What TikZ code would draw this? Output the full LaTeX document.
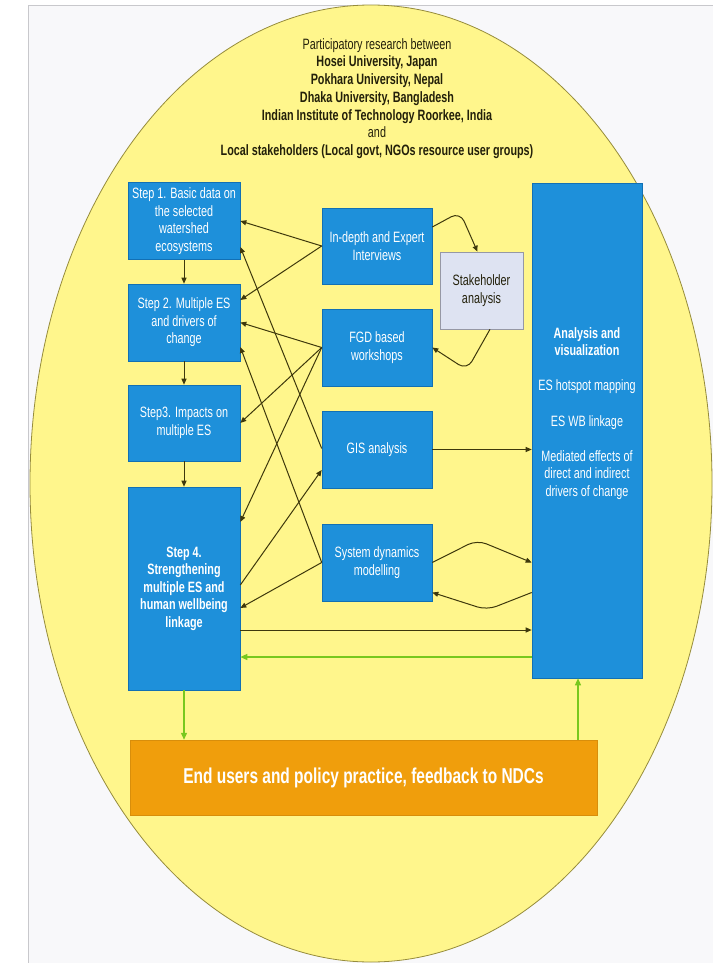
\documentclass[tikz,border=0pt]{standalone}
\usepackage{fontspec}
\setmainfont{Liberation Sans}
\newfontfamily\dfont[FakeStretch=0.72]{Liberation Sans}
\usetikzlibrary{arrows.meta,calc}
\definecolor{pagebg}{RGB}{248,248,250}
\definecolor{framegray}{RGB}{200,200,204}
\definecolor{ellfill}{RGB}{255,246,140}
\definecolor{elledge}{RGB}{150,140,60}
\definecolor{bluebox}{RGB}{30,144,218}
\definecolor{blueedge}{RGB}{18,112,180}
\definecolor{stkfill}{RGB}{222,227,242}
\definecolor{stkedge}{RGB}{150,152,165}
\definecolor{orangebox}{RGB}{240,158,12}
\definecolor{lineC}{RGB}{62,56,12}
\definecolor{greenC}{RGB}{120,200,30}
\definecolor{titleC}{RGB}{35,32,10}
\tikzset{
  stepbox/.style={rectangle, fill=bluebox, draw=blueedge, line width=0.6pt,
    text=white, align=center, inner sep=0pt,
    font=\dfont\fontsize{15}{17.5}\selectfont,
    minimum width=112pt, minimum height=77pt},
  methodbox/.style={stepbox, minimum width=110pt},
  stkbox/.style={rectangle, fill=stkfill, draw=stkedge, line width=0.6pt,
    text=titleC, align=center, inner sep=0pt,
    font=\dfont\fontsize{15}{17.5}\selectfont,
    minimum width=83pt, minimum height=77pt},
  conn/.style={draw=lineC, line width=1pt, -{Triangle[length=6pt,width=5pt]}},
  gconn/.style={draw=greenC, line width=1.3pt, -{Triangle[length=7pt,width=6pt]}}
}
\begin{document}
\begin{tikzpicture}[x=1pt,y=-1pt]
\useasboundingbox (0,0) rectangle (713,963);
\fill[white] (0,0) rectangle (713,963);
\fill[pagebg] (28,5) rectangle (713,963);
\draw[framegray, line width=0.8pt] (28,963) -- (28,5) -- (713,5);
\draw[elledge, fill=ellfill, line width=0.8pt] (371,483.5) ellipse [x radius=341, y radius=478.5];

\node[text=titleC, align=center, font=\dfont\fontsize{15}{17.7}\selectfont] (title) at (377,98.5)
  {Participatory research between\\
   {\bfseries Hosei University, Japan}\\
   {\bfseries Pokhara University, Nepal}\\
   {\bfseries Dhaka University, Bangladesh}\\
   {\bfseries Indian Institute of Technology Roorkee, India}\\
   and\\
   {\bfseries Local stakeholders (Local govt, NGOs resource user groups)}};

\node[stepbox] (s1) at (184,221) {Step 1. Basic data on\\the selected\\watershed\\ecosystems};
\node[stepbox] (s2) at (184,322.5) {Step 2. Multiple ES\\and drivers of\\change};
\node[stepbox, minimum height=76pt] (s3) at (184,423) {Step3. Impacts on\\multiple ES};
\node[stepbox, minimum height=203pt, font=\dfont\bfseries\fontsize{15}{17.5}\selectfont] (s4) at (184,588.5)
  {Step 4.\\Strengthening\\multiple ES and\\human wellbeing\\linkage};

\node[methodbox, minimum height=76pt] (ind) at (377,246) {In-depth and Expert\\Interviews};
\node[methodbox] (fgd) at (377,347.5) {FGD based\\workshops};
\node[methodbox] (gis) at (377,449.5) {GIS analysis};
\node[methodbox] (sd) at (377,562.5) {System dynamics\\modelling};
\node[stkbox] (stk) at (481.5,290.5) {Stakeholder\\analysis};

\node[stepbox, minimum width=110pt, minimum height=495pt] (ana) at (587,430.5) {};
\node[text=white, align=center, inner sep=0pt, font=\dfont\fontsize{15}{17.6}\selectfont] (anatext) at (587,413.5)
  {{\bfseries Analysis and}\\{\bfseries visualization}\\[17.6pt]ES hotspot mapping\\[17.6pt]ES WB linkage\\[17.6pt]Mediated effects of\\direct and indirect\\drivers of change};

\node[rectangle, fill=orangebox, draw=orangebox!90!black, line width=0.5pt, minimum width=467pt, minimum height=75pt,
  text=white, font=\dfont\bfseries\fontsize{21.5}{24}\selectfont] (end) at (363.5,777.5)
  {End users and policy practice, feedback to NDCs};

% step chain
\draw[conn] (s1.south) -- (s2.north);
\draw[conn] (s2.south) -- (s3.north);
\draw[conn] (s3.south) -- (s4.north);

% crossing connectors
\draw[conn] (ind.west) -- (s1.east);
\draw[conn] (ind.west) -- ([yshift=22.5pt]s2.east);
\draw[conn] ([yshift=1pt]gis.west) -- ([yshift=-26pt]s1.east);
\draw[conn] (fgd.west) -- (s2.east);
\draw[conn] (sd.west) -- ([yshift=-24.5pt]s2.east);
\draw[conn] (fgd.west) -- (s3.east);
\draw[conn] (fgd.west) -- ([yshift=66.5pt]s4.east);
\draw[conn] ([yshift=3.5pt]s4.east) -- ([yshift=-20.5pt]gis.west);
\draw[conn] (sd.west) -- ([yshift=-19.5pt]s4.east);

% to/from analysis
\draw[conn] ([yshift=-41.5pt]s4.east) -- ([yshift=-41.5pt]s4.east -| ana.west);
\draw[conn] (gis.east) -- (gis.east -| ana.west);
\draw[conn, rounded corners=10pt] (sd.east) -- (477,540) -- (sd.east -| ana.west);
\draw[conn, rounded corners=10pt] ([yshift=-30pt]sd.east -| ana.west) -- (487,610) -- ([yshift=-30pt]sd.east);

% stakeholder loop
\draw[conn, rounded corners=10pt] ([yshift=19pt]ind.east) -- (460,212) -- ([xshift=-4pt]stk.north);
\draw[conn, rounded corners=10pt] ([xshift=8.5pt]stk.south) -- (467,370) -- (fgd.east);

% green feedback
\draw[gconn] ([yshift=-68.5pt]s4.east -| ana.west) -- ([yshift=-68.5pt]s4.east);
\draw[gconn] (s4.south) -- (s4.south |- end.north);
\draw[gconn] ([xshift=-9pt]ana.south |- end.north) -- ([xshift=-9pt]ana.south);
\end{tikzpicture}
\end{document}
